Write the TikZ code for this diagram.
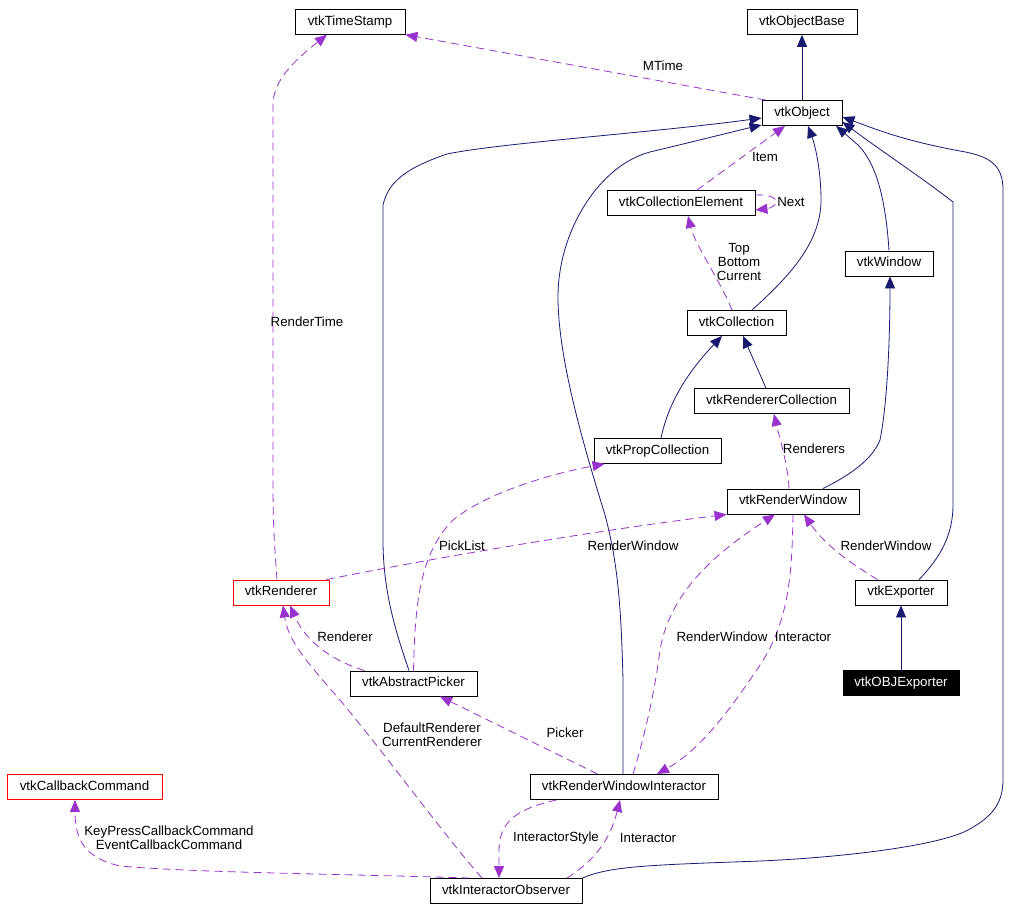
\documentclass[tikz,border=0pt]{standalone}
\usepackage{fontspec}
\setmainfont{Liberation Sans}
\usetikzlibrary{arrows.meta}
\definecolor{inh}{HTML}{191970}
\definecolor{usg}{HTML}{9A32CD}
\begin{document}
\begin{tikzpicture}[x=1pt,y=-1pt,
  box/.style={draw=black,line width=0.9pt,fill=white,inner sep=0pt,minimum height=25pt,
    text height=9.6pt,text depth=2.8pt,font=\fontsize{13.3}{15.5}\selectfont},
  redbox/.style={box,draw=red},
  blackbox/.style={box,fill=black,text=white},
  inhedge/.style={draw=inh,line width=0.8pt,-{Triangle[length=12pt,width=10pt,fill=inh]}},
  usedge/.style={draw=usg,line width=0.8pt,dash pattern=on 8pt off 5pt,-{Triangle[length=12pt,width=10pt,fill=usg]}},
  lbl/.style={inner sep=0pt,align=center,font=\fontsize{13.3}{14}\selectfont}]
\useasboundingbox (0,0) rectangle (1024,911);
\fill[white] (0,0) rectangle (1024,911);
% nodes
\node[box,minimum width=110pt] (ts) at (350,21.8) {vtkTimeStamp};
\node[box,minimum width=110pt] (ob) at (802,21.8) {vtkObjectBase};
\node[box,minimum width=80pt] (obj) at (802,113) {vtkObject};
\node[box,minimum width=148pt] (cel) at (681,203) {vtkCollectionElement};
\node[box,minimum width=88pt] (win) at (889,263.5) {vtkWindow};
\node[box,minimum width=99pt] (coll) at (736.5,323) {vtkCollection};
\node[box,minimum width=155pt] (rcoll) at (771.5,401) {vtkRendererCollection};
\node[box,minimum width=127pt] (prop) at (657.5,451) {vtkPropCollection};
\node[box,minimum width=132pt] (rw) at (793,501.5) {vtkRenderWindow};
\node[redbox,minimum width=96pt] (ren) at (281,592.5) {vtkRenderer};
\node[box,minimum width=92pt] (exp) at (901,592.5) {vtkExporter};
\node[blackbox,minimum width=116pt] (objexp) at (901,683) {vtkOBJExporter};
\node[box,minimum width=127pt] (pick) at (413.5,683.5) {vtkAbstractPicker};
\node[redbox,minimum width=155pt] (cb) at (84.5,787) {vtkCallbackCommand};
\node[box,minimum width=188pt] (rwi) at (624,787) {vtkRenderWindowInteractor};
\node[box,minimum width=152pt] (obs) at (506,891) {vtkInteractorObserver};
% inheritance edges
\draw[inhedge] (obj.north) -- (ob.south);
\draw[inhedge] ([xshift=15.5pt]coll.north) .. controls (785,280) and (821,245) .. (821,200) .. controls (821,170) and (815,145) .. ([xshift=6pt]obj.south);
\draw[inhedge] (win.north) .. controls (886,205) and (878,165) .. (858,145) .. controls (850,138) and (842,131) .. ([xshift=34pt]obj.south);
\draw[inhedge] ([xshift=18pt]exp.north) .. controls (940,558) and (953,535) .. (953,505) -- (953,202) .. controls (925,180) and (880,150) .. ([yshift=4pt]obj.south east);
\draw[inhedge] (obs.north east) .. controls (610,866) and (650,865) .. (760,861) .. controls (850,857) and (940,845) .. (968,830) .. controls (990,818) and (1003,805) .. (1003,780) -- (1003,190) .. controls (1003,165) and (990,156) .. (960,151) .. controls (900,140) and (870,127) .. ([yshift=-4pt]obj.east);
\draw[inhedge] ([xshift=-1pt]rwi.north) -- (623,680) .. controls (621,600) and (617,560) .. (605,515) .. controls (585,450) and (558,360) .. (558,297) .. controls (558,230) and (600,165) .. (650,152) .. controls (700,140) and (740,130) .. ([yshift=1pt]obj.south west);
\draw[inhedge] ([xshift=-4.5pt]pick.north) .. controls (395,630) and (383,590) .. (383,540) -- (383,205) .. controls (388,185) and (400,170) .. (447,154) .. controls (500,143) and (650,133) .. ([yshift=-5pt]obj.west);
\draw[inhedge] ([xshift=3.5pt]prop.north) .. controls (668,405) and (685,375) .. ([xshift=-14.5pt]coll.south);
\draw[inhedge] ([xshift=-5.5pt]rcoll.north) -- ([xshift=6.5pt]coll.south);
\draw[inhedge] ([xshift=30pt]rw.north) .. controls (850,475) and (872,460) .. (880,440) .. controls (888,400) and (890,330) .. ([xshift=1pt]win.south);
\draw[inhedge] (objexp.north) -- (exp.south);
% usage edges
\draw[usedge] ([xshift=4pt]obj.north west) -- (ts.south east);
\draw[usedge] ([xshift=-4pt]ren.north) .. controls (274,540) and (273,520) .. (273,480) -- (273,105) .. controls (273,80) and (295,60) .. ([xshift=-23pt]ts.south);
\draw[usedge] ([xshift=16pt]cel.north) -- ([xshift=-17pt]obj.south);
\draw[usedge] ([yshift=8pt]cel.east) .. controls (768,194) and (778,198) .. (776,203) .. controls (774,208) and (765,209) .. ([yshift=-7pt]cel.east);
\draw[usedge] ([xshift=-4.5pt]coll.north) .. controls (720,280) and (695,245) .. ([xshift=7pt]cel.south);
\draw[usedge] ([xshift=-4pt]rw.north) .. controls (788,465) and (780,440) .. ([xshift=2.5pt]rcoll.south);
\draw[usedge] ([xshift=-3pt]ren.north east) .. controls (450,555) and (600,530) .. (rw.south west);
\draw[usedge] (pick.north) .. controls (415,610) and (418,555) .. (453,520) .. controls (490,490) and (560,472) .. ([xshift=11pt]prop.south west);
\draw[usedge] ([xshift=15pt]pick.north west) .. controls (330,660) and (305,640) .. ([xshift=9pt]ren.south);
\draw[usedge] ([xshift=-24pt]obs.north) .. controls (440,830) and (390,760) .. (340,700) .. controls (305,660) and (288,640) .. ([xshift=2pt]ren.south);
\draw[usedge] ([xshift=68pt]rwi.north west) -- ([xshift=26.5pt]pick.south);
\draw[usedge] ([xshift=9pt]rwi.north) .. controls (645,735) and (655,690) .. (660,650) .. controls (670,590) and (720,550) .. ([xshift=-18pt]rw.south);
\draw[usedge] (rw.south) .. controls (792,570) and (790,620) .. (760,665) .. controls (730,710) and (700,750) .. ([xshift=33pt]rwi.north);
\draw[usedge] ([xshift=23pt]exp.north west) .. controls (850,563) and (825,545) .. ([xshift=11pt]rw.south);
\draw[usedge] ([xshift=61pt]obs.north) .. controls (595,860) and (610,840) .. ([xshift=-4pt]rwi.south);
\draw[usedge] ([xshift=27pt]rwi.south west) .. controls (520,808) and (499,820) .. (499,850) -- ([xshift=-7pt]obs.north);
\draw[usedge] ([xshift=40pt]obs.north west) .. controls (350,874) and (200,873) .. (120,866) .. controls (85,858) and (75,840) .. ([xshift=-9.5pt]cb.south);
% labels
\node[lbl] (lmtime) at (663,66) {MTime};
\node[lbl] (lrtime) at (307,322) {RenderTime};
\node[lbl] (litem) at (765,157) {Item};
\node[lbl] (lnext) at (791,202) {Next};
\node[lbl] (ltbc) at (739,262) {Top\\Bottom\\Current};
\node[lbl] (lrends) at (814,449) {Renderers};
\node[lbl] (lrw1) at (633,546) {RenderWindow};
\node[lbl] (lpick) at (462,546) {PickList};
\node[lbl] (lrend) at (345,637) {Renderer};
\node[lbl] (lrw2) at (722,637) {RenderWindow};
\node[lbl] (linter1) at (803,637) {Interactor};
\node[lbl] (lrw3) at (886,546) {RenderWindow};
\node[lbl] (ldcr) at (432,735) {DefaultRenderer\\CurrentRenderer};
\node[lbl] (lpicker) at (565,733) {Picker};
\node[lbl] (listyle) at (556,838) {InteractorStyle};
\node[lbl] (linter2) at (648,838) {Interactor};
\node[lbl] (lkey) at (169,838) {KeyPressCallbackCommand\\EventCallbackCommand};
\end{tikzpicture}
\end{document}
